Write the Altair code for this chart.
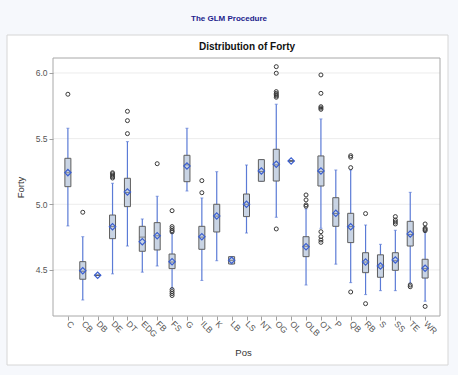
import altair as alt
import pandas as pd

positions = ["C", "CB", "DB", "DE", "DT", "EDG", "FB", "FS", "G", "ILB", "K", "LB", "LS",
             "NT", "OG", "OL", "OLB", "OT", "P", "QB", "RB", "S", "SS", "TE", "WR"]
whisker_low = [4.835, 4.271, 4.459, 4.470, 4.682, 4.483, 4.530, 4.360, 5.101, 4.420, 4.570, 4.545, 4.781,
               5.175, 4.901, 5.330, 4.385, 4.817, 4.544, 4.403, 4.312, 4.342, 4.342, 4.399, 4.262]
q1 = [5.134, 4.429, 4.459, 4.738, 4.982, 4.642, 4.652, 4.510, 5.172, 4.657, 4.789, 4.545, 4.906,
      5.175, 5.177, 5.330, 4.601, 5.139, 4.832, 4.708, 4.479, 4.444, 4.497, 4.682, 4.438]
median = [5.240, 4.490, 4.459, 4.830, 5.090, 4.750, 4.760, 4.560, 5.300, 4.750, 4.910, 4.573, 5.000,
          5.250, 5.300, 5.330, 4.680, 5.250, 4.930, 4.830, 4.560, 4.530, 4.570, 4.770, 4.510]
q3 = [5.350, 4.563, 4.459, 4.918, 5.198, 4.832, 4.860, 4.621, 5.373, 4.832, 5.000, 4.601, 5.078,
      5.340, 5.419, 5.330, 4.753, 5.368, 5.050, 4.931, 4.631, 4.615, 4.631, 4.870, 4.581]
whisker_high = [5.579, 4.753, 4.459, 5.160, 5.477, 4.888, 5.061, 4.779, 5.579, 5.048, 5.248, 4.601, 5.299,
                5.340, 5.762, 5.330, 4.965, 5.650, 5.261, 5.261, 4.842, 4.695, 4.802, 5.091, 4.790]
means = [5.241, 4.494, 4.459, 4.829, 5.094, 4.715, 4.761, 4.563, 5.292, 4.753, 4.911, 4.573, 5.000,
         5.254, 5.305, 5.330, 4.677, 5.254, 4.931, 4.829, 4.561, 4.530, 4.576, 4.774, 4.513]

outlier_pos = (["C"] + ["CB"] + ["DE"] * 5 + ["DT"] * 3 + ["FB"] + ["FS"] * 9 + ["ILB"] * 2
               + ["OG"] * 8 + ["OLB"] * 4 + ["OT"] * 9 + ["QB"] * 4 + ["RB"] * 2 + ["SS"] * 4
               + ["TE"] * 2 + ["WR"] * 5)
outlier_val = ([5.838] + [4.939] + [5.200, 5.210, 5.220, 5.232, 5.240] + [5.708, 5.637, 5.538] + [5.309]
               + [4.951, 4.830, 4.815, 4.800, 4.790, 4.350, 4.335, 4.320, 4.305] + [5.180, 5.088]
               + [6.048, 5.998, 5.858, 5.845, 5.835, 5.825, 5.815, 4.812]
               + [5.071, 5.033, 4.995, 4.985]
               + [5.985, 5.845, 5.743, 5.733, 5.723, 4.791, 4.753, 4.728, 4.710]
               + [5.370, 5.358, 5.279, 4.332] + [4.929, 4.243] + [4.906, 4.880, 4.865, 4.850]
               + [4.385, 4.372] + [4.850, 4.817, 4.808, 4.799, 4.222])

y_ticks = [4.5, 5.0, 5.5, 6.0]
proc_title = "The GLM Procedure"
plot_title = "Distribution of Forty"

W, H = 387, 258
FONT = "Liberation Sans"

box = pd.DataFrame({"Pos": positions, "lo": whisker_low, "q1": q1, "med": median,
                    "q3": q3, "hi": whisker_high, "mean": means})
out = pd.DataFrame({"Pos": outlier_pos, "val": outlier_val})
grid = pd.DataFrame({"v": y_ticks})
one = pd.DataFrame({"k": [0]})

xscale = alt.Scale(type="point", domain=positions, padding=1.29)
yscale = alt.Scale(domain=[4.149, 6.114], nice=False, zero=False)

xaxis = alt.Axis(title="Pos", labelAngle=45, labelAlign="left", labelBaseline="middle",
                 tickSize=4, tickColor="#a0a0a0", labelPadding=2, domain=False, grid=False,
                 labelColor="#555555", labelFontSize=8.5, titleFontSize=9.5, titleColor="#333333",
                 titleFontWeight="normal", titleX=190, titleY=36, titleBaseline="middle",
                 titleAlign="center", zindex=2)
yaxis = alt.Axis(title="Forty", values=y_ticks, format=".1f", grid=False, domain=False,
                 tickSize=4, tickColor="#a0a0a0", labelColor="#555555", labelFontSize=8.5,
                 labelPadding=2, titleFontSize=9.5, titleColor="#333333", titleFontWeight="normal",
                 titleX=-33, titleY=129, titleAlign="center", titleBaseline="middle", zindex=2)

X = alt.X("Pos:N", scale=xscale, sort=positions, axis=xaxis)

panel = alt.Chart(one).mark_rect(fill="white", stroke="#d6d6d6", strokeWidth=1).encode(
    x=alt.value(-46), x2=alt.value(395), y=alt.value(-23), y2=alt.value(307))

gridlines = alt.Chart(grid).mark_rule(color="#ececec", strokeWidth=1).encode(
    y=alt.Y("v:Q", scale=yscale, axis=yaxis), x=alt.value(0), x2=alt.value(W))

frame = alt.Chart(one).mark_rect(fillOpacity=0, stroke="#a8a8a8", strokeWidth=1).encode(
    x=alt.value(0), x2=alt.value(W), y=alt.value(0), y2=alt.value(H))

WHISK = "#5b7bd6"
whiskers = alt.Chart(box).mark_rule(color=WHISK, strokeWidth=1.2).encode(
    x=X, y=alt.Y("lo:Q", scale=yscale, axis=yaxis), y2="hi:Q")

cap_lo = alt.Chart(box).mark_tick(color=WHISK, size=3, thickness=1).encode(
    x=X, y=alt.Y("lo:Q", scale=yscale, axis=yaxis))
cap_hi = alt.Chart(box).mark_tick(color=WHISK, size=3, thickness=1).encode(
    x=X, y=alt.Y("hi:Q", scale=yscale, axis=yaxis))

boxes = alt.Chart(box).mark_bar(size=6, fill="#c9d4e4", stroke="#5e5e5e", strokeWidth=1).encode(
    x=X, y=alt.Y("q1:Q", scale=yscale, axis=yaxis), y2="q3:Q")

medians = alt.Chart(box).mark_tick(color="#5e5e5e", size=6, thickness=1).encode(
    x=X, y=alt.Y("med:Q", scale=yscale, axis=yaxis))

mean_pts = alt.Chart(box).mark_point(shape="diamond", size=40, filled=False, color="#3b5fd0",
                                     strokeWidth=1.2, opacity=1).encode(
    x=X, y=alt.Y("mean:Q", scale=yscale, axis=yaxis))

outliers = alt.Chart(out).mark_point(shape="circle", size=16, filled=False, color="#3a3a3a",
                                     strokeWidth=1, opacity=1).encode(
    x=X, y=alt.Y("val:Q", scale=yscale, axis=yaxis))

t_proc = alt.Chart(one).mark_text(text=proc_title, font=FONT, fontSize=8, fontWeight="bold",
                                  color="#22228c", align="center", baseline="middle").encode(
    x=alt.value(176), y=alt.value(-39))
t_plot = alt.Chart(one).mark_text(text=plot_title, font=FONT, fontSize=10, fontWeight="bold",
                                  color="#111111", align="center", baseline="middle").encode(
    x=alt.value(194), y=alt.value(-11))

chart = alt.layer(panel, gridlines, frame, whiskers, cap_lo, cap_hi, boxes, medians,
                  mean_pts, outliers, t_proc, t_plot).properties(
    width=W, height=H,
    autosize=alt.AutoSizeParams(type="none"),
    padding={"left": 53, "top": 58, "right": 18, "bottom": 59},
    background="#f6f8fc",
).configure(font=FONT).configure_view(stroke=None)

chart.save("out.html", embed_options={"renderer": "svg", "actions": False})
